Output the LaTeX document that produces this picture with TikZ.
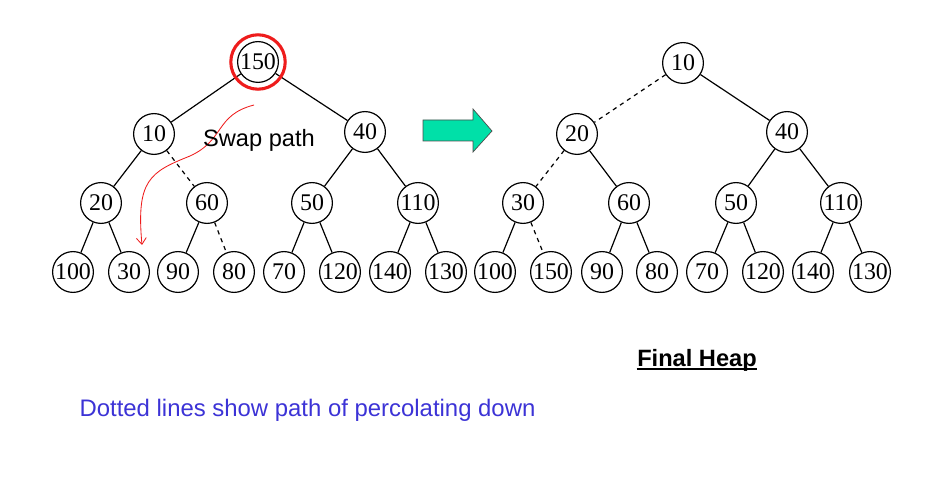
\documentclass[tikz,border=0pt]{standalone}
\usepackage{fontspec}
\setmainfont{Liberation Serif}
\newfontfamily\arialfont{Liberation Sans}
\usepackage{tikz}
\tikzset{node distance=3cm and 5cm, auto}
\usetikzlibrary{arrows,arrows.meta,shapes}
\usepackage{xcolor}
\newcommand{\heapnode}[2]{node[circle, draw, line width=0.85pt, inner sep=0pt, minimum size=1.02cm, font=\fontsize{17}{17}\selectfont](#1) {#2}}
\definecolor{swapcol}{HTML}{EE1C1C}
\definecolor{arrowcol}{HTML}{00E0A8}
\definecolor{notecol}{HTML}{3C33D6}

\begin{document}
\begin{tikzpicture}[x=0.025cm, y=-0.025cm, line width=0.85pt]
\useasboundingbox (0,0) rectangle (926,484);
% heap before percolating down
\draw (258,62) \heapnode{l150}{150} ;
  \draw (154,134) \heapnode{l10}{10} ;
  \draw (365,132) \heapnode{l40}{40} ;
    \draw (101,203) \heapnode{l20}{20} ;
    \draw (207,203) \heapnode{l60}{60} ;
    \draw (312,203) \heapnode{l50}{50} ;
    \draw (418,203) \heapnode{l110}{110} ;
      \draw (73,272) \heapnode{l100}{100} ;
      \draw (129,272) \heapnode{l30}{30} ;
      \draw (178,272) \heapnode{l90}{90} ;
      \draw (234,272) \heapnode{l80}{80} ;
      \draw (284,272) \heapnode{l70}{70} ;
      \draw (340,272) \heapnode{l120}{120} ;
      \draw (390,272) \heapnode{l140}{140} ;
      \draw (446,272) \heapnode{l130}{130} ;
\draw (l150) -- (l10) ;
\draw (l150) -- (l40) ;
\draw (l10) -- (l20) ;
\draw[dashed] (l10) -- (l60) ;
\draw (l40) -- (l50) ;
\draw (l40) -- (l110) ;
\draw (l20) -- (l100) ;
\draw (l20) -- (l30) ;
\draw (l60) -- (l90) ;
\draw[dashed] (l60) -- (l80) ;
\draw (l50) -- (l70) ;
\draw (l50) -- (l120) ;
\draw (l110) -- (l140) ;
\draw (l110) -- (l130) ;
\draw (l150) node[circle, draw=swapcol, line width=2.2pt, inner sep=0pt, minimum size=1.36cm](ring) {} ;
% swap path
\coordinate (swapstart) at (254,105) ;
\coordinate (swapend) at (142,245) ;
\draw[swapcol, line width=0.6pt, -{Straight Barb[length=4.5pt, width=7pt]}] (swapstart) .. controls (215,115) and (225,140) .. (190,156)
  .. controls (150,172) and (136,180) .. (swapend) ;
\draw (259,147) node[anchor=base, font=\arialfont\fontsize{16.8}{16.8}\selectfont](swaplabel) {Swap path} ;
% big arrow
\fill[arrowcol, draw=black!70, line width=0.5pt] (423,120) -- (473,120) -- (473,109) -- (492,131)
  -- (473,152) -- (473,141) -- (423,141) -- cycle ;
% final heap
\draw (683,63) \heapnode{r10}{10} ;
  \draw (577,134) \heapnode{r20}{20} ;
  \draw (787,132) \heapnode{r40}{40} ;
    \draw (523,203) \heapnode{r30}{30} ;
    \draw (629,203) \heapnode{r60}{60} ;
    \draw (736,203) \heapnode{r50}{50} ;
    \draw (841,203) \heapnode{r110}{110} ;
      \draw (495,272) \heapnode{r100}{100} ;
      \draw (551,272) \heapnode{r150}{150} ;
      \draw (602,272) \heapnode{r90}{90} ;
      \draw (657,272) \heapnode{r80}{80} ;
      \draw (707,272) \heapnode{r70}{70} ;
      \draw (763,272) \heapnode{r120}{120} ;
      \draw (813,272) \heapnode{r140}{140} ;
      \draw (870,272) \heapnode{r130}{130} ;
\draw[dashed] (r10) -- (r20) ;
\draw (r10) -- (r40) ;
\draw[dashed] (r20) -- (r30) ;
\draw (r20) -- (r60) ;
\draw (r40) -- (r50) ;
\draw (r40) -- (r110) ;
\draw (r30) -- (r100) ;
\draw[dashed] (r30) -- (r150) ;
\draw (r60) -- (r90) ;
\draw (r60) -- (r80) ;
\draw (r50) -- (r70) ;
\draw (r50) -- (r120) ;
\draw (r110) -- (r140) ;
\draw (r110) -- (r130) ;
% captions
\draw (697,366) node[anchor=base, inner sep=0pt, font=\arialfont\bfseries\fontsize{16.8}{16.8}\selectfont](finalhead) {Final Heap} ;
\draw[line width=1.5pt] ([yshift=-2.2pt]finalhead.base west) -- ([yshift=-2.2pt]finalhead.base east) ;
\draw (79,416) node[anchor=base west, inner sep=0pt, text=notecol, font=\arialfont\fontsize{17}{17}\selectfont](note) {Dotted lines show path of percolating down} ;
\end{tikzpicture}
\end{document}
